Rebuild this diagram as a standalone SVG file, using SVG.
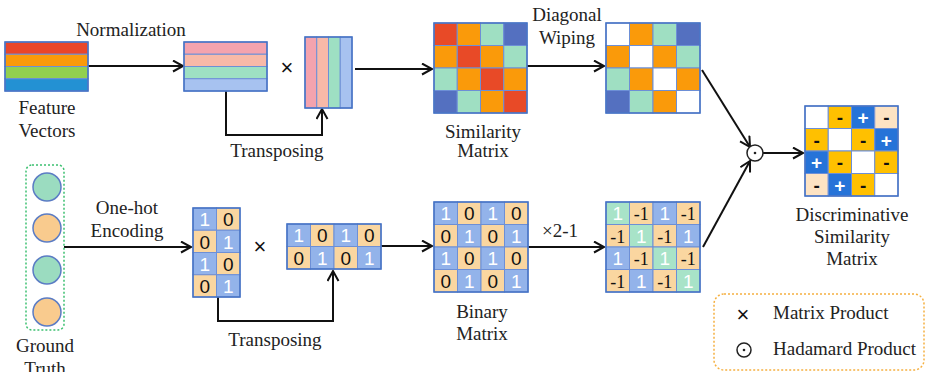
<svg xmlns="http://www.w3.org/2000/svg" width="927" height="372" viewBox="0 0 927 372">
<style>
.t{font-family:"Liberation Serif","Times New Roman",serif;font-size:19px;fill:#222;text-anchor:middle}
.tl{font-family:"Liberation Serif","Times New Roman",serif;font-size:19px;fill:#222}
.c{stroke:#6D8FD6;stroke-width:1}
.bd{fill:none;stroke:#4472C4;stroke-width:1.5}
.n1{font-family:"Liberation Sans",Arial,sans-serif;font-size:19px;fill:#fff;text-anchor:middle}
.n0{font-family:"Liberation Sans",Arial,sans-serif;font-size:19px;fill:#111;text-anchor:middle}
.nm{font-family:"Liberation Serif","Times New Roman",serif;font-size:18px;fill:#111;text-anchor:middle}
.sp{font-family:"Liberation Sans",Arial,sans-serif;font-size:19px;font-weight:bold;fill:#fff;text-anchor:middle}
.sm{font-family:"Liberation Sans",Arial,sans-serif;font-size:19px;font-weight:bold;fill:#111;text-anchor:middle}
.x{font-family:"Liberation Sans",Arial,sans-serif;font-size:22px;fill:#111;text-anchor:middle}
.R{fill:#E84A27}.O{fill:#FA9A0A}.M{fill:#9FDFC2}.B{fill:#5470C0}.W{fill:#fff}
.b1{fill:#93B3EA}.p0{fill:#FAD6A0}.m1{fill:#A8E3C8}
.Y{fill:#FFC000}.DB{fill:#2673D8}.P{fill:#FDE3C3}
.ln{fill:none;stroke:#111;stroke-width:2}
</style>
<defs>
<marker id="ah" markerUnits="userSpaceOnUse" markerWidth="14" markerHeight="14" refX="11" refY="6" orient="auto">
<path d="M1,0.5 L11,6 L1,11.5" fill="none" stroke="#111" stroke-width="2"/>
</marker>
</defs>

<g id="connectors">
<line class="ln" x1="88" y1="66" x2="183" y2="66" marker-end="url(#ah)"/>
<polyline class="ln" points="226,91 226,135 322,135 322,109" marker-end="url(#ah)"/>
<line class="ln" x1="355" y1="69" x2="432" y2="69" marker-end="url(#ah)"/>
<line class="ln" x1="527" y1="66" x2="604" y2="66" marker-end="url(#ah)"/>
<line class="ln" x1="702" y1="70" x2="750" y2="147" marker-end="url(#ah)"/>
<line class="ln" x1="64" y1="247" x2="191" y2="247" marker-end="url(#ah)"/>
<polyline class="ln" points="218,297 218,321 333,321 333,271" marker-end="url(#ah)"/>
<line class="ln" x1="381" y1="246" x2="432" y2="246" marker-end="url(#ah)"/>
<line class="ln" x1="528" y1="247" x2="604" y2="247" marker-end="url(#ah)"/>
<line class="ln" x1="703" y1="247" x2="750" y2="161" marker-end="url(#ah)"/>
<line class="ln" x1="763" y1="153" x2="803" y2="153" marker-end="url(#ah)"/>
</g>

<g id="feature-vectors">
<rect x="5" y="42" width="83" height="12.25" fill="#E9462A" class="c"/>
<rect x="5" y="54.25" width="83" height="12.25" fill="#FA9A0A" class="c"/>
<rect x="5" y="66.5" width="83" height="12.25" fill="#92D050" class="c"/>
<rect x="5" y="78.75" width="83" height="12.25" fill="#2391D3" class="c"/>
<rect x="5" y="42" width="83" height="49" class="bd"/>
<text class="t" x="47" y="114">Feature</text>
<text class="t" x="47" y="137">Vectors</text>
</g>

<g id="normalization-label"><text class="t" x="131" y="36">Normalization</text></g>

<g id="normalized">
<rect x="184" y="42" width="83" height="12.25" fill="#F4A3AE" class="c"/>
<rect x="184" y="54.25" width="83" height="12.25" fill="#F8B9A8" class="c"/>
<rect x="184" y="66.5" width="83" height="12.25" fill="#9EE0C3" class="c"/>
<rect x="184" y="78.75" width="83" height="12.25" fill="#A7C2F0" class="c"/>
<rect x="184" y="42" width="83" height="49" class="bd"/>
</g>

<g id="times-top"><text class="x" x="287" y="75">×</text></g>

<g id="transposed">
<rect x="305" y="37" width="11.75" height="71" fill="#F4A3AE" class="c"/>
<rect x="316.75" y="37" width="11.75" height="71" fill="#F8B9A8" class="c"/>
<rect x="328.5" y="37" width="11.75" height="71" fill="#9EE0C3" class="c"/>
<rect x="340.25" y="37" width="11.75" height="71" fill="#A7C2F0" class="c"/>
<rect x="305" y="37" width="47" height="71" class="bd"/>
</g>

<g id="transposing-top"><text class="t" x="277" y="157">Transposing</text></g>

<g id="similarity-matrix">
<rect x="434" y="23" width="23.25" height="22.5" class="R c"/>
<rect x="457.25" y="23" width="23.25" height="22.5" class="O c"/>
<rect x="480.5" y="23" width="23.25" height="22.5" class="M c"/>
<rect x="503.75" y="23" width="23.25" height="22.5" class="B c"/>
<rect x="434" y="45.5" width="23.25" height="22.5" class="O c"/>
<rect x="457.25" y="45.5" width="23.25" height="22.5" class="R c"/>
<rect x="480.5" y="45.5" width="23.25" height="22.5" class="O c"/>
<rect x="503.75" y="45.5" width="23.25" height="22.5" class="M c"/>
<rect x="434" y="68" width="23.25" height="22.5" class="M c"/>
<rect x="457.25" y="68" width="23.25" height="22.5" class="O c"/>
<rect x="480.5" y="68" width="23.25" height="22.5" class="R c"/>
<rect x="503.75" y="68" width="23.25" height="22.5" class="O c"/>
<rect x="434" y="90.5" width="23.25" height="22.5" class="B c"/>
<rect x="457.25" y="90.5" width="23.25" height="22.5" class="M c"/>
<rect x="480.5" y="90.5" width="23.25" height="22.5" class="O c"/>
<rect x="503.75" y="90.5" width="23.25" height="22.5" class="R c"/>
<rect x="434" y="23" width="93" height="90" class="bd"/>
<text class="t" x="483" y="138">Similarity</text>
<text class="t" x="483" y="157">Matrix</text>
</g>

<g id="diagonal-wiping-label">
<text class="t" x="567" y="21">Diagonal</text>
<text class="t" x="567" y="44">Wiping</text>
</g>

<g id="wiped-matrix">
<rect x="606" y="23" width="23.5" height="22.5" class="W c"/>
<rect x="629.5" y="23" width="23.5" height="22.5" class="O c"/>
<rect x="653" y="23" width="23.5" height="22.5" class="M c"/>
<rect x="676.5" y="23" width="23.5" height="22.5" class="B c"/>
<rect x="606" y="45.5" width="23.5" height="22.5" class="O c"/>
<rect x="629.5" y="45.5" width="23.5" height="22.5" class="W c"/>
<rect x="653" y="45.5" width="23.5" height="22.5" class="O c"/>
<rect x="676.5" y="45.5" width="23.5" height="22.5" class="M c"/>
<rect x="606" y="68" width="23.5" height="22.5" class="M c"/>
<rect x="629.5" y="68" width="23.5" height="22.5" class="O c"/>
<rect x="653" y="68" width="23.5" height="22.5" class="W c"/>
<rect x="676.5" y="68" width="23.5" height="22.5" class="O c"/>
<rect x="606" y="90.5" width="23.5" height="22.5" class="B c"/>
<rect x="629.5" y="90.5" width="23.5" height="22.5" class="M c"/>
<rect x="653" y="90.5" width="23.5" height="22.5" class="O c"/>
<rect x="676.5" y="90.5" width="23.5" height="22.5" class="W c"/>
<rect x="606" y="23" width="94" height="90" class="bd"/>
</g>

<g id="ground-truth">
<rect x="26" y="165" width="38" height="165" rx="6" fill="none" stroke="#3CC070" stroke-width="1.5" stroke-dasharray="2 2"/>
<circle cx="47" cy="187" r="14" fill="#9BDCC0" stroke="#5B7CC4" stroke-width="1.5"/>
<circle cx="47" cy="228" r="14" fill="#F9CB8E" stroke="#5B7CC4" stroke-width="1.5"/>
<circle cx="47" cy="270" r="14" fill="#9BDCC0" stroke="#5B7CC4" stroke-width="1.5"/>
<circle cx="47" cy="312" r="14" fill="#F9CB8E" stroke="#5B7CC4" stroke-width="1.5"/>
<text class="t" x="45" y="352">Ground</text>
<text class="t" x="45" y="375">Truth</text>
</g>

<g id="one-hot-label">
<text class="t" x="127" y="214">One-hot</text>
<text class="t" x="127" y="237">Encoding</text>
</g>

<g id="one-hot-matrix">
<rect x="193" y="208" width="23.5" height="22.25" class="b1 c"/>
<rect x="216.5" y="208" width="23.5" height="22.25" class="p0 c"/>
<rect x="193" y="230.25" width="23.5" height="22.25" class="p0 c"/>
<rect x="216.5" y="230.25" width="23.5" height="22.25" class="b1 c"/>
<rect x="193" y="252.5" width="23.5" height="22.25" class="b1 c"/>
<rect x="216.5" y="252.5" width="23.5" height="22.25" class="p0 c"/>
<rect x="193" y="274.75" width="23.5" height="22.25" class="p0 c"/>
<rect x="216.5" y="274.75" width="23.5" height="22.25" class="b1 c"/>
<rect x="193" y="208" width="47" height="89" class="bd"/>
<text class="n1" x="204.75" y="226">1</text><text class="n0" x="228.25" y="226">0</text>
<text class="n0" x="204.75" y="248.5">0</text><text class="n1" x="228.25" y="248.5">1</text>
<text class="n1" x="204.75" y="270.5">1</text><text class="n0" x="228.25" y="270.5">0</text>
<text class="n0" x="204.75" y="293">0</text><text class="n1" x="228.25" y="293">1</text>
</g>

<g id="times-bottom"><text class="x" x="260" y="254">×</text></g>

<g id="transposed-onehot">
<rect x="287" y="224" width="23.5" height="22.5" class="b1 c"/>
<rect x="310.5" y="224" width="23.5" height="22.5" class="p0 c"/>
<rect x="334" y="224" width="23.5" height="22.5" class="b1 c"/>
<rect x="357.5" y="224" width="23.5" height="22.5" class="p0 c"/>
<rect x="287" y="246.5" width="23.5" height="22.5" class="p0 c"/>
<rect x="310.5" y="246.5" width="23.5" height="22.5" class="b1 c"/>
<rect x="334" y="246.5" width="23.5" height="22.5" class="p0 c"/>
<rect x="357.5" y="246.5" width="23.5" height="22.5" class="b1 c"/>
<rect x="287" y="224" width="94" height="45" class="bd"/>
<text class="n1" x="298.75" y="242">1</text><text class="n0" x="322.25" y="242">0</text><text class="n1" x="345.75" y="242">1</text><text class="n0" x="369.25" y="242">0</text>
<text class="n0" x="298.75" y="264.5">0</text><text class="n1" x="322.25" y="264.5">1</text><text class="n0" x="345.75" y="264.5">0</text><text class="n1" x="369.25" y="264.5">1</text>
</g>

<g id="transposing-bottom"><text class="t" x="275" y="346">Transposing</text></g>

<g id="binary-matrix">
<rect x="434" y="202" width="23.5" height="22.5" class="b1 c"/>
<rect x="457.5" y="202" width="23.5" height="22.5" class="p0 c"/>
<rect x="481" y="202" width="23.5" height="22.5" class="b1 c"/>
<rect x="504.5" y="202" width="23.5" height="22.5" class="p0 c"/>
<rect x="434" y="224.5" width="23.5" height="22.5" class="p0 c"/>
<rect x="457.5" y="224.5" width="23.5" height="22.5" class="b1 c"/>
<rect x="481" y="224.5" width="23.5" height="22.5" class="p0 c"/>
<rect x="504.5" y="224.5" width="23.5" height="22.5" class="b1 c"/>
<rect x="434" y="247" width="23.5" height="22.5" class="b1 c"/>
<rect x="457.5" y="247" width="23.5" height="22.5" class="p0 c"/>
<rect x="481" y="247" width="23.5" height="22.5" class="b1 c"/>
<rect x="504.5" y="247" width="23.5" height="22.5" class="p0 c"/>
<rect x="434" y="269.5" width="23.5" height="22.5" class="p0 c"/>
<rect x="457.5" y="269.5" width="23.5" height="22.5" class="b1 c"/>
<rect x="481" y="269.5" width="23.5" height="22.5" class="p0 c"/>
<rect x="504.5" y="269.5" width="23.5" height="22.5" class="b1 c"/>
<rect x="434" y="202" width="94" height="90" class="bd"/>
<text class="n1" x="445.75" y="220">1</text><text class="n0" x="469.25" y="220">0</text><text class="n1" x="492.75" y="220">1</text><text class="n0" x="516.25" y="220">0</text>
<text class="n0" x="445.75" y="242.5">0</text><text class="n1" x="469.25" y="242.5">1</text><text class="n0" x="492.75" y="242.5">0</text><text class="n1" x="516.25" y="242.5">1</text>
<text class="n1" x="445.75" y="265">1</text><text class="n0" x="469.25" y="265">0</text><text class="n1" x="492.75" y="265">1</text><text class="n0" x="516.25" y="265">0</text>
<text class="n0" x="445.75" y="287.5">0</text><text class="n1" x="469.25" y="287.5">1</text><text class="n0" x="492.75" y="287.5">0</text><text class="n1" x="516.25" y="287.5">1</text>
<text class="t" x="482" y="318">Binary</text>
<text class="t" x="482" y="340">Matrix</text>
</g>

<g id="x2-1-label"><text class="t" x="560" y="237">×2-1</text></g>

<g id="signed-matrix">
<rect x="606" y="202" width="23.5" height="22.5" class="m1 c"/>
<rect x="629.5" y="202" width="23.5" height="22.5" class="p0 c"/>
<rect x="653" y="202" width="23.5" height="22.5" class="b1 c"/>
<rect x="676.5" y="202" width="23.5" height="22.5" class="p0 c"/>
<rect x="606" y="224.5" width="23.5" height="22.5" class="p0 c"/>
<rect x="629.5" y="224.5" width="23.5" height="22.5" class="m1 c"/>
<rect x="653" y="224.5" width="23.5" height="22.5" class="p0 c"/>
<rect x="676.5" y="224.5" width="23.5" height="22.5" class="b1 c"/>
<rect x="606" y="247" width="23.5" height="22.5" class="b1 c"/>
<rect x="629.5" y="247" width="23.5" height="22.5" class="p0 c"/>
<rect x="653" y="247" width="23.5" height="22.5" class="m1 c"/>
<rect x="676.5" y="247" width="23.5" height="22.5" class="p0 c"/>
<rect x="606" y="269.5" width="23.5" height="22.5" class="p0 c"/>
<rect x="629.5" y="269.5" width="23.5" height="22.5" class="b1 c"/>
<rect x="653" y="269.5" width="23.5" height="22.5" class="p0 c"/>
<rect x="676.5" y="269.5" width="23.5" height="22.5" class="m1 c"/>
<rect x="606" y="202" width="94" height="90" class="bd"/>
<text class="n1" x="617.75" y="220">1</text><text class="nm" x="641.25" y="220">-1</text><text class="n1" x="664.75" y="220">1</text><text class="nm" x="688.25" y="220">-1</text>
<text class="nm" x="617.75" y="242.5">-1</text><text class="n1" x="641.25" y="242.5">1</text><text class="nm" x="664.75" y="242.5">-1</text><text class="n1" x="688.25" y="242.5">1</text>
<text class="n1" x="617.75" y="265">1</text><text class="nm" x="641.25" y="265">-1</text><text class="n1" x="664.75" y="265">1</text><text class="nm" x="688.25" y="265">-1</text>
<text class="nm" x="617.75" y="287.5">-1</text><text class="n1" x="641.25" y="287.5">1</text><text class="nm" x="664.75" y="287.5">-1</text><text class="n1" x="688.25" y="287.5">1</text>
</g>

<g id="hadamard-op">
<circle cx="755" cy="153" r="8" fill="#fff" stroke="#222" stroke-width="1.5"/>
<circle cx="755" cy="153" r="1.3" fill="#222"/>
</g>

<g id="discriminative-matrix">
<rect x="805" y="106" width="23.25" height="22.5" class="W c"/>
<rect x="828.25" y="106" width="23.25" height="22.5" class="Y c"/>
<rect x="851.5" y="106" width="23.25" height="22.5" class="DB c"/>
<rect x="874.75" y="106" width="23.25" height="22.5" class="P c"/>
<rect x="805" y="128.5" width="23.25" height="22.5" class="Y c"/>
<rect x="828.25" y="128.5" width="23.25" height="22.5" class="W c"/>
<rect x="851.5" y="128.5" width="23.25" height="22.5" class="Y c"/>
<rect x="874.75" y="128.5" width="23.25" height="22.5" class="DB c"/>
<rect x="805" y="151" width="23.25" height="22.5" class="DB c"/>
<rect x="828.25" y="151" width="23.25" height="22.5" class="Y c"/>
<rect x="851.5" y="151" width="23.25" height="22.5" class="W c"/>
<rect x="874.75" y="151" width="23.25" height="22.5" class="Y c"/>
<rect x="805" y="173.5" width="23.25" height="22.5" class="P c"/>
<rect x="828.25" y="173.5" width="23.25" height="22.5" class="DB c"/>
<rect x="851.5" y="173.5" width="23.25" height="22.5" class="Y c"/>
<rect x="874.75" y="173.5" width="23.25" height="22.5" class="W c"/>
<rect x="805" y="106" width="93" height="90" class="bd"/>
<text class="sm" x="839.9" y="124">-</text><text class="sp" x="863.1" y="124">+</text><text class="sm" x="886.4" y="124">-</text>
<text class="sm" x="816.6" y="146.5">-</text><text class="sm" x="863.1" y="146.5">-</text><text class="sp" x="886.4" y="146.5">+</text>
<text class="sp" x="816.6" y="169">+</text><text class="sm" x="839.9" y="169">-</text><text class="sm" x="886.4" y="169">-</text>
<text class="sm" x="816.6" y="191.5">-</text><text class="sp" x="839.9" y="191.5">+</text><text class="sm" x="863.1" y="191.5">-</text>
<text class="t" x="852" y="221">Discriminative</text>
<text class="t" x="852" y="243">Similarity</text>
<text class="t" x="852" y="265">Matrix</text>
</g>

<g id="legend">
<rect x="714" y="294" width="210" height="76" rx="10" fill="none" stroke="#F5B041" stroke-width="1.5" stroke-dasharray="2 2"/>
<text class="x" x="743" y="322">×</text>
<text class="tl" x="773" y="319">Matrix Product</text>
<circle cx="744" cy="350" r="7" fill="#fff" stroke="#222" stroke-width="1.5"/>
<circle cx="744" cy="350" r="1.3" fill="#222"/>
<text class="tl" x="773" y="355">Hadamard Product</text>
</g>
</svg>
